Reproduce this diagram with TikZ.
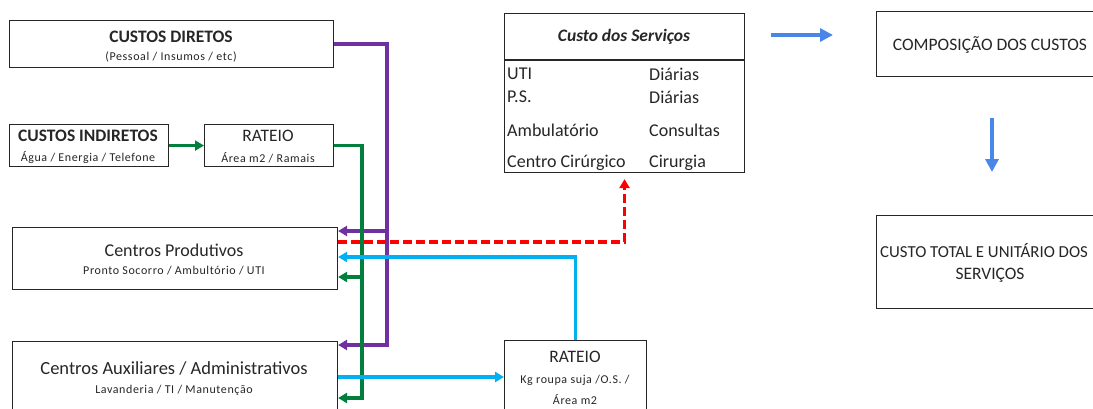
\documentclass[tikz,border=0pt]{standalone}
\usepackage{fontspec}
\setmainfont{Carlito}
\usetikzlibrary{arrows.meta}
\definecolor{cpurple}{RGB}{112,48,160}
\definecolor{cgreen}{RGB}{0,128,60}
\definecolor{ccyan}{RGB}{0,176,240}
\definecolor{cred}{RGB}{255,0,0}
\definecolor{cblue}{RGB}{74,134,232}
\definecolor{ctext}{RGB}{38,38,38}
\newfontfamily\spacedfont[LetterSpace=5]{Carlito}
\begin{document}
\begin{tikzpicture}[x=1pt,y=-1pt,
  box/.style={draw=black!85, line width=1.1pt, inner sep=0pt, anchor=north west},
  lbl/.style={inner sep=0pt, text=ctext},
  titlef/.style={lbl, font=\fontsize{17.5}{20}\selectfont},
  subf/.style={lbl, font=\spacedfont\fontsize{12}{14}\selectfont},
  rowf/.style={lbl, anchor=west, font=\fontsize{18}{20}\selectfont},
  conn/.style={line width=3.2pt, -{Triangle[length=9pt,width=10pt]}},
  bigconn/.style={line width=4pt, cblue, -{Triangle[length=13pt,width=13pt]}},
  reddash/.style={conn, cred, dash pattern=on 9pt off 4pt}]
\useasboundingbox (0,0) rectangle (1093,408);
\clip (0,0) rectangle (1093,408);

% boxes
\node[box, minimum width=324pt, minimum height=47pt] (cd) at (9,20) {};
\node[box, minimum width=159pt, minimum height=42pt] (ci) at (9,124) {};
\node[box, minimum width=129pt, minimum height=42pt] (r1) at (204,124) {};
\node[box, minimum width=325pt, minimum height=62pt] (cp) at (12,227) {};
\node[box, minimum width=325pt, minimum height=80pt] (ca) at (12,341) {};
\node[box, minimum width=142pt, minimum height=80pt] (r2) at (504,340) {};
\node[box, minimum width=240pt, minimum height=159pt] (cs) at (504,13) {};
\node[box, minimum width=228pt, minimum height=65pt] (comp) at (876,11) {};
\node[box, minimum width=228pt, minimum height=93pt] (tot) at (876,215) {};

% texts
\node[titlef, font=\fontsize{17.5}{20}\selectfont\bfseries] (cdt) at (171,37) {CUSTOS DIRETOS};
\node[subf] (cds) at (171,57) {(Pessoal / Insumos / etc)};
\node[titlef, font=\fontsize{17.5}{20}\selectfont\bfseries] (cit) at (88,136) {CUSTOS INDIRETOS};
\node[subf] (cis) at (88,158) {Água / Energia / Telefone};
\node[titlef] (r1t) at (268,136) {RATEIO};
\node[subf] (r1s) at (268,158) {Área m2 / Ramais};
\node[titlef, font=\fontsize{18}{20}\selectfont] (cpt) at (174,250) {Centros Produtivos};
\node[subf] (cps) at (174,271) {Pronto Socorro / Ambultório / UTI};
\node[titlef, font=\fontsize{18.5}{20}\selectfont] (cat) at (174,368) {Centros Auxiliares / Administrativos};
\node[subf] (cas) at (174,390) {Lavanderia / TI / Manutenção};
\node[titlef] (r2t) at (575,357) {RATEIO};
\node[subf] (r2s) at (575,380) {Kg roupa suja /O.S. /};
\node[subf] (r2u) at (575,400) {Área m2};

\draw[black!85, line width=1.1pt] (cs.west |- 0,60) -- (cs.east |- 0,60);
\node[titlef, font=\fontsize{17.5}{20}\selectfont\bfseries\itshape] (cst) at (624,37) {Custo dos Serviços};
\node[rowf] (a1) at (507,74) {UTI};
\node[rowf] (a2) at (507,97) {P.S.};
\node[rowf] (a3) at (507,130) {Ambulatório};
\node[rowf] (a4) at (507,163) {Centro Cirúrgico};
\node[rowf] (b1) at (649,74) {Diárias};
\node[rowf] (b2) at (649,97) {Diárias};
\node[rowf] (b3) at (649,130) {Consultas};
\node[rowf] (b4) at (649,163) {Cirurgia};

\node[titlef] (compt) at (990,45) {COMPOSIÇÃO DOS CUSTOS};
\node[titlef, anchor=west, font=\fontsize{16.8}{20}\selectfont] (tott1) at (880,251) {CUSTO TOTAL E UNITÁRIO DOS};
\node[titlef] (tott2) at (990,275) {SERVIÇOS};

% connectors
\coordinate (pb) at (387,345);
\coordinate (pm) at (387,231);
\draw[conn, cpurple] (cd.east) -| (pb) -- (pb -| ca.east);
\draw[conn, cpurple] (pm) -- (pm -| cp.east);

\draw[conn, cgreen] (ci.east) -- (r1.west);
\coordinate (gb) at (362,398);
\coordinate (gm) at (362,277);
\draw[conn, cgreen] (r1.east) -| (gb) -- (gb -| ca.east);
\draw[conn, cgreen] (gm) -- (gm -| cp.east);

\coordinate (rd) at (624,242);
\draw[reddash] (rd -| cp.east) -| ([yshift=-6pt]cs.south);

\coordinate (cy) at (577,257);
\draw[conn, ccyan] (r2.north) |- (cy -| cp.east);
\coordinate (cz) at (0,377);
\draw[conn, ccyan] (cz -| ca.east) -- (cz -| r2.west);

\coordinate (bl1) at (771,35);
\coordinate (bl2) at (833,35);
\draw[bigconn] (bl1) -- (bl2);
\coordinate (bd1) at (992,118);
\coordinate (bd2) at (992,172);
\draw[bigconn] (bd1) -- (bd2);
\end{tikzpicture}
\end{document}
